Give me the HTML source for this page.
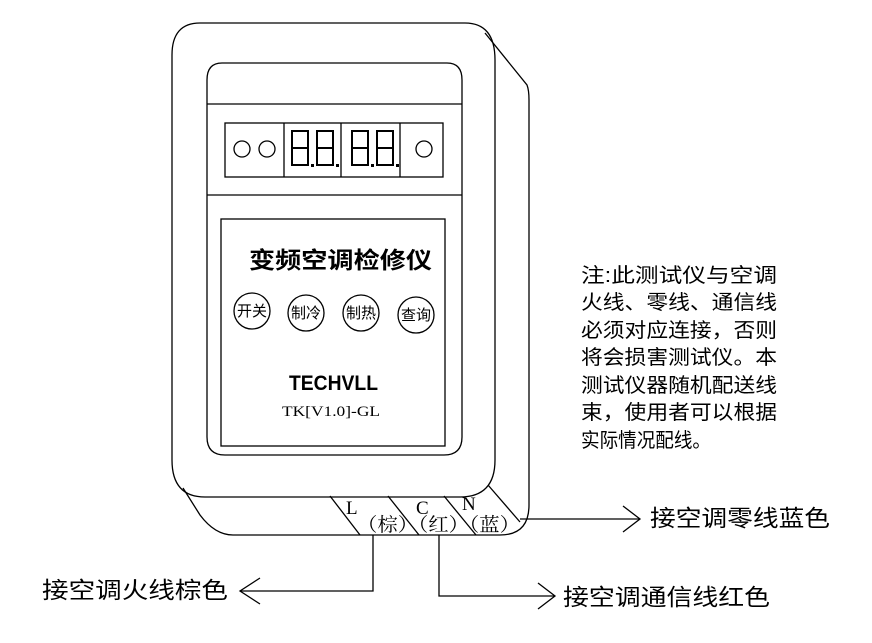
<!DOCTYPE html>
<html><head><meta charset="utf-8"><style>
html,body{margin:0;padding:0;background:#fff;}
svg{display:block;}
.cj{font-family:"Liberation Serif","Noto Serif CJK SC",serif;}
.cs{font-family:"Liberation Sans","Noto Sans CJK SC",sans-serif;}
</style></head><body>
<svg width="872" height="643" viewBox="0 0 872 643" xmlns="http://www.w3.org/2000/svg">
<g fill="none" stroke="#000" stroke-width="1.3">
<!-- back body -->
<path d="M485,33 L527,85 Q529,90 529,100 L529,505 Q529,535 500,535 L233,535 Q215,535 200,515 L183,488"/>
<!-- front body -->
<path d="M200,23 L465,23 Q495,23 495,60 L495,460 Q495,497 460,497 L205,497 Q172,497 172,460 L172,55 Q172,23 200,23 Z"/>
<!-- inner panel -->
<path d="M222,63 L447,63 Q462,63 462,80 L462,437 Q462,455 444,455 L225,455 Q207,455 207,437 L207,80 Q207,63 222,63 Z"/>
<line x1="207" y1="104" x2="462" y2="104"/>
<line x1="207" y1="195" x2="462" y2="195"/>
<!-- display -->
<rect x="225" y="123" width="218" height="54"/>
<line x1="284" y1="123" x2="284" y2="177"/>
<line x1="341" y1="123" x2="341" y2="177"/>
<line x1="400" y1="123" x2="400" y2="177"/>
<circle cx="242" cy="149" r="8"/>
<circle cx="267" cy="149" r="8"/>
<circle cx="424" cy="149" r="8"/>
<!-- label panel -->
<rect x="221" y="219" width="224" height="227"/>
<circle cx="252" cy="311" r="18"/>
<circle cx="306" cy="313" r="18"/>
<circle cx="361" cy="313" r="18"/>
<circle cx="416" cy="315" r="18"/>
<!-- hatch -->
<line x1="330" y1="496" x2="360" y2="535"/>
<line x1="388" y1="496" x2="419" y2="535"/>
<line x1="444" y1="496" x2="476" y2="535"/>
<line x1="488" y1="485" x2="520" y2="522"/>
<!-- wires -->
<polyline points="373,535 373,591 240,591"/>
<polyline points="260,578 240,591 260,604"/>
<polyline points="439,535 439,596 555,596"/>
<polyline points="538,583 555,596 538,609"/>
<polyline points="520,519 640,519"/>
<polyline points="623,506 640,519 623,532"/>
</g>
<!-- seven segment digits -->
<g fill="none" stroke="#000" stroke-width="2">
<path d="M292,131 h16 v34 h-16 z M292,148 h16"/>
<path d="M317,131 h16 v34 h-16 z M317,148 h16"/>
<path d="M352,131 h16 v34 h-16 z M352,148 h16"/>
<path d="M377,131 h16 v34 h-16 z M377,148 h16"/>
</g>
<g fill="#000"><rect x="311" y="164" width="3" height="3"/><rect x="336" y="164" width="3" height="3"/><rect x="371" y="164" width="3" height="3"/><rect x="396" y="164" width="3" height="3"/></g>
<text x="249" y="268" class="cs" font-size="23" font-weight="bold" textLength="183" lengthAdjust="spacingAndGlyphs">变频空调检修仪</text>
<g class="cs" font-size="15" text-anchor="middle">
<text x="252" y="316">开关</text><text x="306" y="318">制冷</text><text x="361" y="318">制热</text><text x="416" y="320">查询</text>
</g>
<text x="289" y="390" class="cs" font-size="21" font-weight="bold" textLength="89" lengthAdjust="spacingAndGlyphs">TECHVLL</text>
<text x="282" y="416" class="cj" font-size="15" textLength="98" lengthAdjust="spacingAndGlyphs">TK[V1.0]-GL</text>
<g class="cj" font-size="19">
<text x="346" y="514">L</text><text x="416" y="514">C</text><text x="462" y="510">N</text>
<text x="357" y="531" textLength="163" lengthAdjust="spacingAndGlyphs">（棕）（红）（蓝）</text>
</g>
<g class="cs" font-size="20">
<text x="581" y="282" textLength="196" lengthAdjust="spacingAndGlyphs">注:此测试仪与空调</text>
<text x="581" y="309" textLength="196" lengthAdjust="spacingAndGlyphs">火线、零线、通信线</text>
<text x="581" y="337" textLength="196" lengthAdjust="spacingAndGlyphs">必须对应连接，否则</text>
<text x="581" y="364" textLength="196" lengthAdjust="spacingAndGlyphs">将会损害测试仪。本</text>
<text x="581" y="392" textLength="196" lengthAdjust="spacingAndGlyphs">测试仪器随机配送线</text>
<text x="581" y="419" textLength="196" lengthAdjust="spacingAndGlyphs">束，使用者可以根据</text>
<text x="581" y="447" textLength="130" lengthAdjust="spacingAndGlyphs">实际情况配线。</text>
</g>
<g class="cs" font-size="23">
<text x="650" y="526" textLength="180" lengthAdjust="spacingAndGlyphs">接空调零线蓝色</text>
<text x="42" y="598" textLength="186" lengthAdjust="spacingAndGlyphs">接空调火线棕色</text>
<text x="563" y="605" textLength="207" lengthAdjust="spacingAndGlyphs">接空调通信线红色</text>
</g>
</svg>
</body></html>
